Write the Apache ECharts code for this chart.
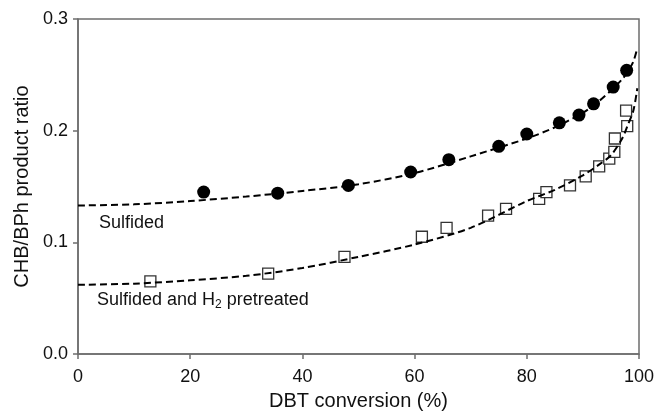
<!DOCTYPE html>
<html>
<head>
<meta charset="utf-8">
<script src="https://cdn.jsdelivr.net/npm/echarts@6/dist/echarts.min.js"></script>
<style>
  html, body { margin: 0; padding: 0; background: #fff; }
  #chart { width: 659px; height: 412px; }
</style>
</head>
<body>
<div id="chart"></div>
<script>
var sulfidedPts = [
  [22.4, 0.145], [35.6, 0.144], [48.2, 0.151], [59.3, 0.163], [66.1, 0.174],
  [75.0, 0.186], [80.0, 0.197], [85.8, 0.207], [89.3, 0.214], [91.9, 0.224],
  [95.4, 0.239], [97.8, 0.254]
];
var pretreatedPts = [
  [12.9, 0.065], [33.9, 0.072], [47.5, 0.087], [61.3, 0.105], [65.7, 0.113],
  [73.1, 0.124], [76.3, 0.130], [82.2, 0.139], [83.5, 0.145], [87.7, 0.151],
  [90.5, 0.159], [92.9, 0.168], [94.7, 0.175], [95.6, 0.181], [95.7, 0.193],
  [97.9, 0.204], [97.7, 0.218]
];

// dashed fit curves
var fitX = [0, 10, 20, 30, 40, 50, 60, 70, 80, 85, 90, 93, 95, 97, 98, 99, 99.7];
var sulfidedFit = [0.133, 0.134, 0.137, 0.141, 0.146, 0.152, 0.162, 0.177, 0.193,
  0.203, 0.216, 0.227, 0.236, 0.246, 0.253, 0.262, 0.274];
var pretreatedFit = [0.062, 0.063, 0.066, 0.070, 0.077, 0.087, 0.098, 0.113, 0.137,
  0.147, 0.160, 0.170, 0.178, 0.193, 0.205, 0.218, 0.238];

var xTicks = [0, 20, 40, 60, 80, 100];
var yTicks = [0.0, 0.1, 0.2, 0.3];

var zip = function (xs, ys) {
  return xs.map(function (x, i) { return [x, ys[i]]; });
};

var font = 'Liberation Sans, Arial, sans-serif';
var axisGray = '#6e6e6e';

var chart = echarts.init(document.getElementById('chart'));

var dashed = {
  color: '#000',
  width: 2,
  type: [7, 4]
};

var option = {
  animation: false,
  backgroundColor: '#fff',
  textStyle: { fontFamily: font },
  grid: {
    left: 78,
    right: 20,
    top: 19,
    bottom: 58,
    containLabel: false,
    outerBoundsMode: 'none',
    show: true,
    borderColor: axisGray,
    borderWidth: 1.5
  },
  xAxis: {
    type: 'value',
    min: xTicks[0],
    max: xTicks[xTicks.length - 1],
    interval: 20,
    name: 'DBT conversion (%)',
    nameLocation: 'middle',
    nameGap: 37,
    nameTextStyle: { fontSize: 20, color: '#111', fontFamily: font },
    axisLine: { lineStyle: { color: axisGray, width: 1.5 } },
    axisTick: { inside: false, length: 5, lineStyle: { color: axisGray, width: 1.5 } },
    axisLabel: { fontSize: 18, color: '#111', margin: 14, fontFamily: font },
    splitLine: { show: false }
  },
  yAxis: {
    type: 'value',
    min: yTicks[0],
    max: yTicks[yTicks.length - 1],
    interval: 0.1,
    name: 'CHB/BPh product ratio',
    nameLocation: 'middle',
    nameGap: 45,
    nameTextStyle: { fontSize: 20, color: '#111', fontFamily: font },
    axisLine: { show: true, lineStyle: { color: axisGray, width: 1.5 } },
    axisTick: { show: true, inside: false, length: 5, lineStyle: { color: axisGray, width: 1.5 } },
    axisLabel: {
      fontSize: 18, color: '#111', margin: 10, fontFamily: font,
      formatter: function (v) { return v.toFixed(1); }
    },
    splitLine: { show: false }
  },
  series: [
    {
      name: 'Sulfided',
      type: 'scatter',
      symbol: 'circle',
      symbolSize: 13,
      itemStyle: { color: '#000', opacity: 1 },
      z: 2,
      data: sulfidedPts
    },
    {
      name: 'Sulfided and H2 pretreated',
      type: 'scatter',
      symbol: 'rect',
      symbolSize: 11,
      itemStyle: { color: '#fff', borderColor: '#333', borderWidth: 1.3, opacity: 1 },
      z: 2,
      data: pretreatedPts
    },
    {
      name: 'fit1',
      type: 'line',
      smooth: 0.3,
      showSymbol: false,
      lineStyle: dashed,
      z: 3,
      data: zip(fitX, sulfidedFit)
    },
    {
      name: 'fit2',
      type: 'line',
      smooth: 0.3,
      showSymbol: false,
      lineStyle: dashed,
      z: 3,
      data: zip(fitX, pretreatedFit)
    }
  ],
  graphic: [
    {
      type: 'text',
      left: 99,
      top: 214,
      style: { text: 'Sulfided', font: '18px ' + font, fill: '#111' }
    },
    {
      type: 'text',
      left: 97,
      top: 291,
      style: {
        text: '{a|Sulfided and H}{s|2}{a| pretreated}',
        rich: {
          a: { fontSize: 18, fontFamily: font, fill: '#111', color: '#111' },
          s: { fontSize: 12, fontFamily: font, fill: '#111', color: '#111', padding: [10, 0, 0, 0] }
        }
      }
    }
  ]
};

chart.setOption(option);
</script>
</body>
</html>
